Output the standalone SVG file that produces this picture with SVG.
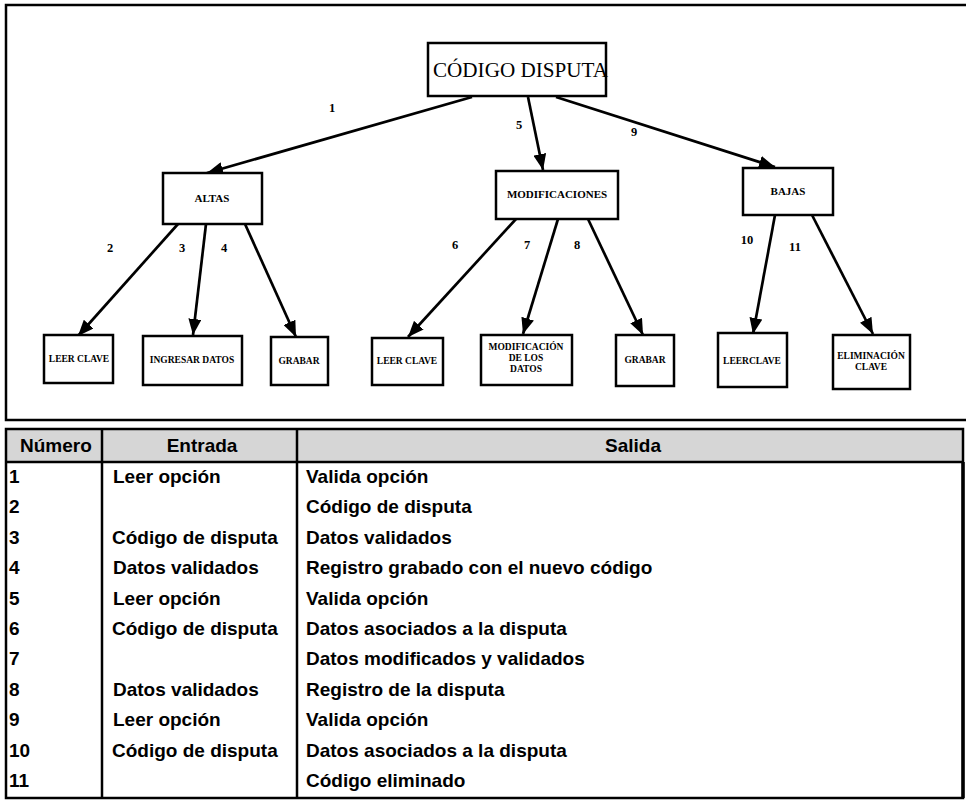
<svg xmlns="http://www.w3.org/2000/svg" width="966" height="804" viewBox="0 0 966 804">
<defs>
<marker id="ah" markerUnits="userSpaceOnUse" markerWidth="17" markerHeight="13" refX="16" refY="6.5" orient="auto">
<path d="M0,0 L16,6.5 L0,13 z" fill="#000"/>
</marker>
<style>
.box{fill:#fff;stroke:#000;stroke-width:2.5}
.con{stroke:#000;stroke-width:2.7;fill:none;marker-end:url(#ah)}
.root{font-family:"Liberation Serif","Times New Roman",serif;font-size:20px;fill:#000}
.mid{font-family:"Liberation Serif","Times New Roman",serif;font-size:11px;font-weight:bold;fill:#000;text-anchor:middle}
.leaf{font-family:"Liberation Serif","Times New Roman",serif;font-size:9.5px;font-weight:bold;fill:#000;text-anchor:middle}
.lbl{font-family:"Liberation Serif","Times New Roman",serif;font-size:12.5px;font-weight:bold;fill:#000;text-anchor:middle}
.tb{font-family:"Liberation Sans",Arial,sans-serif;font-size:19px;font-weight:bold;fill:#000}
.tl{stroke:#000;stroke-width:2.5;fill:none}
</style>
</defs>
<rect width="966" height="804" fill="#fff"/>
<!-- outer frame of diagram -->
<rect x="6" y="5" width="975" height="415" fill="none" stroke="#000" stroke-width="2.5"/>

<g id="connectors">
<line class="con" x1="472" y1="97" x2="207" y2="173"/>
<line class="con" x1="528" y1="97" x2="543" y2="170"/>
<line class="con" x1="556" y1="97" x2="775" y2="167"/>
<line class="con" x1="178" y1="224" x2="78" y2="336"/>
<line class="con" x1="206" y1="224" x2="193" y2="335"/>
<line class="con" x1="245" y1="224" x2="296" y2="337"/>
<line class="con" x1="516" y1="219" x2="408" y2="337"/>
<line class="con" x1="558" y1="219" x2="523" y2="334"/>
<line class="con" x1="588" y1="219" x2="643" y2="335"/>
<line class="con" x1="775" y1="215" x2="753" y2="334"/>
<line class="con" x1="812" y1="215" x2="873" y2="334"/>
</g>

<g id="connector-labels">
<text class="lbl" x="332" y="112">1</text>
<text class="lbl" x="519" y="129">5</text>
<text class="lbl" x="634" y="136">9</text>
<text class="lbl" x="110" y="252">2</text>
<text class="lbl" x="182" y="252">3</text>
<text class="lbl" x="224" y="252">4</text>
<text class="lbl" x="455" y="249">6</text>
<text class="lbl" x="527" y="249">7</text>
<text class="lbl" x="577" y="249">8</text>
<text class="lbl" x="747" y="244">10</text>
<text class="lbl" x="795" y="251">11</text>
</g>

<g id="node-root">
<rect class="box" x="428" y="43" width="178" height="53"/>
<text class="root" x="433" y="77" textLength="175" lengthAdjust="spacingAndGlyphs">CÓDIGO DISPUTA</text>
</g>
<g id="node-altas">
<rect class="box" x="163" y="173" width="99" height="51"/>
<text class="mid" x="212" y="202">ALTAS</text>
</g>
<g id="node-modificaciones">
<rect class="box" x="496" y="171" width="122" height="48"/>
<text class="mid" x="557" y="198">MODIFICACIONES</text>
</g>
<g id="node-bajas">
<rect class="box" x="743" y="168" width="90" height="47"/>
<text class="mid" x="788" y="195">BAJAS</text>
</g>

<g id="node-leer-clave-1">
<rect class="box" x="44" y="335" width="69" height="48"/>
<text class="leaf" x="79" y="362">LEER CLAVE</text>
</g>
<g id="node-ingresar-datos">
<rect class="box" x="143" y="336" width="99" height="49"/>
<text class="leaf" x="192" y="363">INGRESAR DATOS</text>
</g>
<g id="node-grabar-1">
<rect class="box" x="271" y="337" width="57" height="48"/>
<text class="leaf" x="299" y="364">GRABAR</text>
</g>
<g id="node-leer-clave-2">
<rect class="box" x="372" y="338" width="71" height="47"/>
<text class="leaf" x="407" y="364">LEER CLAVE</text>
</g>
<g id="node-modificacion-datos">
<rect class="box" x="481" y="335" width="91" height="50"/>
<text class="leaf" x="526" y="350">MODIFICACIÓN</text>
<text class="leaf" x="526" y="361">DE LOS</text>
<text class="leaf" x="526" y="372">DATOS</text>
</g>
<g id="node-grabar-2">
<rect class="box" x="616" y="335" width="58" height="51"/>
<text class="leaf" x="645" y="363">GRABAR</text>
</g>
<g id="node-leerclave-3">
<rect class="box" x="718" y="333" width="69" height="54"/>
<text class="leaf" x="752" y="364">LEERCLAVE</text>
</g>
<g id="node-eliminacion-clave">
<rect class="box" x="833" y="335" width="77" height="54"/>
<text class="leaf" x="871" y="359">ELIMINACIÓN</text>
<text class="leaf" x="871" y="370">CLAVE</text>
</g>

<g id="table">
<rect x="6" y="429" width="957" height="33" fill="#d6d6d6"/>
<rect class="tl" x="6" y="429" width="957" height="369"/>
<line class="tl" x1="6" y1="462" x2="963" y2="462"/>
<line class="tl" x1="102" y1="429" x2="102" y2="798"/>
<line class="tl" x1="297" y1="429" x2="297" y2="798"/>
<line x1="963" y1="462" x2="963" y2="798" stroke="#000" stroke-width="3.5"/>
<text class="tb" x="20" y="452">Número</text>
<text class="tb" x="202" y="452" text-anchor="middle">Entrada</text>
<text class="tb" x="633" y="452" text-anchor="middle">Salida</text>

<text class="tb" x="9" y="483">1</text>
<text class="tb" x="9" y="513">2</text>
<text class="tb" x="9" y="544">3</text>
<text class="tb" x="9" y="574">4</text>
<text class="tb" x="9" y="605">5</text>
<text class="tb" x="9" y="635">6</text>
<text class="tb" x="9" y="665">7</text>
<text class="tb" x="9" y="696">8</text>
<text class="tb" x="9" y="726">9</text>
<text class="tb" x="9" y="757">10</text>
<text class="tb" x="9" y="787">11</text>

<text class="tb" x="113" y="483">Leer opción</text>
<text class="tb" x="112" y="544">Código de disputa</text>
<text class="tb" x="113" y="574">Datos validados</text>
<text class="tb" x="113" y="605">Leer opción</text>
<text class="tb" x="112" y="635">Código de disputa</text>
<text class="tb" x="113" y="696">Datos validados</text>
<text class="tb" x="113" y="726">Leer opción</text>
<text class="tb" x="112" y="757">Código de disputa</text>

<text class="tb" x="306" y="483">Valida opción</text>
<text class="tb" x="306" y="513">Código de disputa</text>
<text class="tb" x="306" y="544">Datos validados</text>
<text class="tb" x="306" y="574">Registro grabado con el nuevo código</text>
<text class="tb" x="306" y="605">Valida opción</text>
<text class="tb" x="306" y="635">Datos asociados a la disputa</text>
<text class="tb" x="306" y="665">Datos modificados y validados</text>
<text class="tb" x="306" y="696">Registro de la disputa</text>
<text class="tb" x="306" y="726">Valida opción</text>
<text class="tb" x="306" y="757">Datos asociados a la disputa</text>
<text class="tb" x="306" y="787">Código eliminado</text>
</g>
</svg>
